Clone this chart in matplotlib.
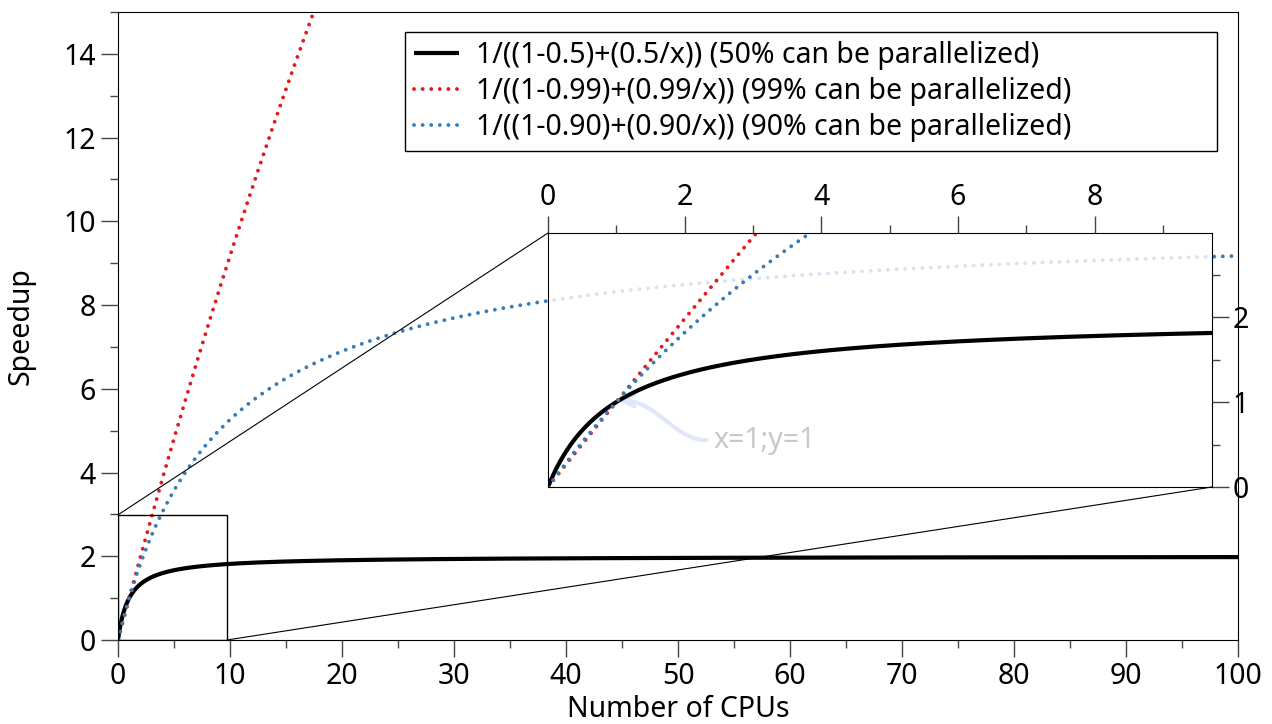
import numpy as np
import matplotlib
matplotlib.use("Agg")
import matplotlib.pyplot as plt
from matplotlib.patches import Rectangle, ConnectionPatch, FancyArrowPatch
from matplotlib.path import Path
from matplotlib.ticker import MultipleLocator

plt.rcParams['font.family'] = ['Noto Sans', 'DejaVu Sans']
plt.rcParams['font.size'] = 20.5

# parallel fractions of the three Amdahl curves (as written in the legend)
fractions = [0.5, 0.99, 0.90]
labels = ["1/((1-0.5)+(0.5/x)) (50% can be parallelized)",
          "1/((1-0.99)+(0.99/x)) (99% can be parallelized)",
          "1/((1-0.90)+(0.90/x)) (90% can be parallelized)"]
colors = ["black", "#e41a1c", "#377eb8"]
cpus = np.linspace(1e-4, 100, 4000)
cpus_zoom = np.linspace(1e-4, 10, 1500)
zoom_xlim = (0, 9.72)
zoom_ylim = (0, 2.99)
note_text = "x=1;y=1"


def speedup(p, x):
    return 1.0 / ((1 - p) + p / x)


def style(i):
    if i == 0:
        return dict(color=colors[i], lw=3, solid_capstyle='butt')
    return dict(color=colors[i], lw=2.8, linestyle=(0, (0.01, 2.2)),
                dash_capstyle='round')


fig = plt.figure(figsize=(12.72, 7.24), dpi=100)
ax = fig.add_axes([118 / 1272, 84 / 724, 1120 / 1272, 628 / 724])

for i, p in enumerate(fractions):
    ax.plot(cpus, speedup(p, cpus), label=labels[i], **style(i))

ax.set_xlim(0, 100)
ax.set_ylim(0, 15)
ax.xaxis.set_major_locator(MultipleLocator(10))
ax.xaxis.set_minor_locator(MultipleLocator(5))
ax.yaxis.set_major_locator(MultipleLocator(2))
ax.yaxis.set_minor_locator(MultipleLocator(1))
ax.tick_params(which='major', length=12, width=1, color='#444444', pad=4)
ax.tick_params(which='minor', length=6, width=1, color='#444444')
ax.set_xlabel("Number of CPUs", labelpad=3)
ax.set_ylabel("Speedup", labelpad=20)

# legend box spans 405..1217 px horizontally, 32..150 px vertically
leg = ax.legend(loc='upper left', mode='expand',
                bbox_to_anchor=(405 / 1272, (724 - 150) / 724, 812 / 1272, 118 / 724),
                bbox_transform=fig.transFigure, borderaxespad=0, fancybox=False,
                edgecolor='black', framealpha=1, handlelength=1.6,
                handletextpad=0.6, borderpad=0.3, labelspacing=0.26)
leg.get_frame().set_linewidth(1)

# zoomed inset
axins = fig.add_axes([548 / 1272, (724 - 487) / 724, 664 / 1272, 254 / 724])
axins.patch.set_facecolor((1, 1, 1, 0.8))
for i, p in enumerate(fractions):
    axins.plot(cpus_zoom, speedup(p, cpus_zoom), **style(i))
axins.set_xlim(*zoom_xlim)
axins.set_ylim(*zoom_ylim)
axins.xaxis.set_major_locator(MultipleLocator(2))
axins.xaxis.set_minor_locator(MultipleLocator(1))
axins.yaxis.set_major_locator(MultipleLocator(1))
axins.yaxis.set_minor_locator(MultipleLocator(0.5))
axins.tick_params(which='both', top=True, bottom=False, left=False, right=True,
                  labeltop=True, labelbottom=False, labelleft=False, labelright=True,
                  color='#444444', width=1)
axins.tick_params(which='major', length=12, pad=3)
axins.tick_params(which='minor', length=6)

# annotation with an S-shaped arrow
axins.text(2.42, 0.55, note_text, color='#c8c8c8', va='center', ha='left')
verts = [(2.32, 0.55), (1.85, 0.55), (1.6, 1.02), (1.02, 1.02)]
arrow_path = Path(verts, [Path.MOVETO, Path.CURVE4, Path.CURVE4, Path.CURVE4])
arr = FancyArrowPatch(path=arrow_path, arrowstyle='->', mutation_scale=22,
                      color='#e1e7f8', lw=3, transform=axins.transData)
axins.add_patch(arr)

# zoom indicator
ax.add_patch(Rectangle((0, 0), zoom_xlim[1], zoom_ylim[1], fill=False,
                       edgecolor='black', lw=1, zorder=3))
for xyA, xyB in [((0, zoom_ylim[1]), (0, 1)), ((zoom_xlim[1], 0), (1, 0))]:
    con = ConnectionPatch(xyA=xyA, coordsA=ax.transData, xyB=xyB,
                          coordsB=axins.transAxes, color='black', lw=0.8)
    fig.add_artist(con)

fig.savefig("out.png", dpi=100)
